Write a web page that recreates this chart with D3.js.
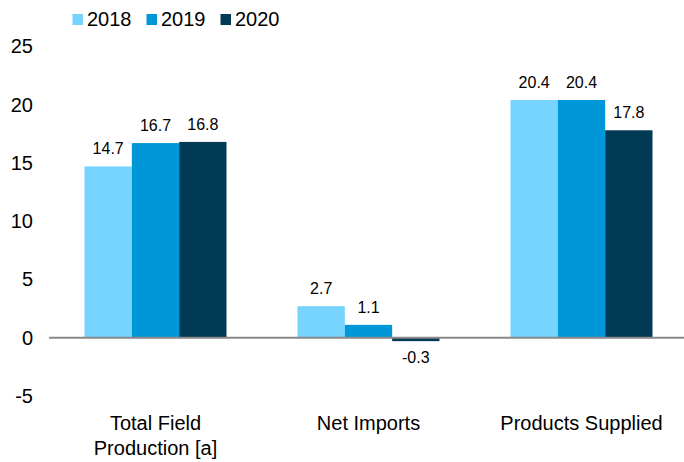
<!DOCTYPE html>
<html><head><meta charset="utf-8">
<script src="https://cdn.jsdelivr.net/npm/d3@7"></script>
<style>body{margin:0;background:#fff}text{font-family:"Liberation Sans",Arial,sans-serif;fill:#000}</style>
</head><body><svg id="c" width="684" height="462"></svg>
<script>
const categories = [["Total Field","Production [a]"],["Net Imports"],["Products Supplied"]];
const years = ["2018","2019","2020"];
const values2018 = [14.7, 2.7, 20.4];
const values2019 = [16.7, 1.1, 20.4];
const values2020 = [16.8, -0.3, 17.8];
const yTicks = [-5,0,5,10,15,20,25];
const colors = ["#76D4FF","#0097D8","#003A55"];
const series = [values2018, values2019, values2020];

const svg = d3.select("#c");
const x0 = d3.scaleBand().domain(d3.range(categories.length)).range([49, 688]).paddingInner(1/3).paddingOuter(1/6);
const x1 = d3.scaleBand().domain(d3.range(years.length)).range([0, x0.bandwidth()]);
const y = d3.scaleLinear().domain([-5, 25]).range([395.9, 46.4]);

// y tick labels
const yAxis = svg.append("g").attr("transform","translate(33,0)")
  .call(d3.axisLeft(y).tickValues(yTicks).tickSize(0).tickPadding(0).tickFormat(d => String(d)));
yAxis.select(".domain").remove();
yAxis.selectAll("text").style("font-size","20px").style("font-family","Liberation Sans, Arial, sans-serif").attr("fill","#000");

// bars
series.forEach((vals, si) => {
  svg.append("g").selectAll("rect").data(vals).join("rect")
    .attr("x", (d,i) => x0(i) + x1(si))
    .attr("width", x1.bandwidth())
    .attr("y", d => y(Math.max(0,d)))
    .attr("height", d => Math.abs(y(d) - y(0)))
    .attr("fill", colors[si]);
  svg.append("g").selectAll("text").data(vals).join("text")
    .attr("x", (d,i) => x0(i) + x1(si) + x1.bandwidth()/2)
    .attr("y", d => d >= 0 ? y(d) - 12 : y(d) + 22)
    .attr("text-anchor","middle")
    .style("font-size","16px")
    .text(d => d.toFixed(1));
});

// zero line
svg.append("line").attr("x1",49).attr("x2",684).attr("y1",y(0)).attr("y2",y(0))
  .attr("stroke","#898989").attr("stroke-width",2);

// category labels
categories.forEach((lines, i) => {
  const t = svg.append("text").attr("text-anchor","middle").style("font-size","20px")
    .attr("x", x0(i) + x0.bandwidth()/2).attr("y", 430);
  lines.forEach((l, j) => t.append("tspan").attr("x", x0(i) + x0.bandwidth()/2).attr("dy", j===0?0:25).text(l));
});

// legend
const lg = svg.append("g");
years.forEach((yr, i) => {
  const g = lg.append("g").attr("transform", `translate(${72.5 + i*74},0)`);
  g.append("rect").attr("x",0).attr("y",14).attr("width",10.5).attr("height",11).attr("fill",colors[i]);
  g.append("text").attr("x",14.5).attr("y",26).style("font-size","20px").text(yr);
});
</script></body></html>
